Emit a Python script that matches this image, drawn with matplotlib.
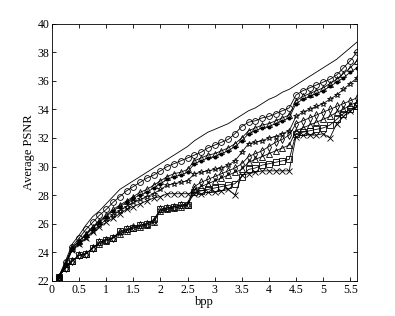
import numpy as np
import matplotlib
matplotlib.use("Agg")
import matplotlib.pyplot as plt

plt.rcParams['font.family'] = ['Liberation Serif', 'DejaVu Serif']

# bpp sample points (0.125 .. 5.625)
bpp = [0.125, 0.25, 0.375, 0.5, 0.625, 0.75, 0.875, 1.0, 1.125, 1.25,
       1.375, 1.5, 1.625, 1.75, 1.875, 2.0, 2.125, 2.25, 2.375, 2.5,
       2.625, 2.75, 2.875, 3.0, 3.125, 3.25, 3.375, 3.5, 3.625, 3.75,
       3.875, 4.0, 4.125, 4.25, 4.375, 4.5, 4.625, 4.75, 4.875, 5.0,
       5.125, 5.25, 5.375, 5.5, 5.625]

psnr_plain = [22.3, 23.4, 24.6, 25.2, 25.9, 26.5, 26.9, 27.4, 27.9, 28.4,
              28.7, 29.0, 29.3, 29.6, 29.9, 30.2, 30.5, 30.8, 31.1, 31.4,
              31.8, 32.1, 32.4, 32.6, 32.8, 33.0, 33.3, 33.6, 33.9, 34.1,
              34.4, 34.7, 34.9, 35.2, 35.4, 35.7, 36.0, 36.3, 36.6, 36.9,
              37.2, 37.5, 37.9, 38.3, 38.7]
psnr_circ = [22.3, 23.3, 24.4, 25.0, 25.6, 26.1, 26.6, 27.0, 27.5, 27.9,
             28.3, 28.6, 28.9, 29.2, 29.4, 29.7, 30.0, 30.2, 30.4, 30.6,
             30.8, 31.0, 31.3, 31.5, 31.7, 31.9, 32.3, 32.8, 33.1, 33.2,
             33.4, 33.5, 33.7, 33.9, 34.1, 35.0, 35.3, 35.5, 35.7, 35.9,
             36.1, 36.4, 36.9, 37.4, 38.0]
psnr_tri = [22.3, 23.2, 24.3, 24.8, 25.3, 25.8, 26.2, 26.6, 27.0, 27.3,
            27.6, 27.9, 28.2, 28.4, 28.7, 29.0, 29.3, 29.5, 29.6, 29.8,
            30.4, 30.6, 30.8, 30.9, 31.1, 31.3, 31.6, 32.0, 32.5, 32.7,
            32.9, 33.0, 33.2, 33.4, 33.6, 34.6, 34.9, 35.1, 35.3, 35.5,
            35.8, 36.1, 36.5, 36.9, 37.4]
psnr_dot = [22.3, 23.2, 24.3, 24.8, 25.2, 25.7, 26.1, 26.5, 26.9, 27.2,
            27.5, 27.8, 28.0, 28.2, 28.5, 28.8, 29.1, 29.3, 29.4, 29.6,
            30.2, 30.4, 30.6, 30.7, 30.9, 31.1, 31.4, 31.8, 32.3, 32.5,
            32.7, 32.8, 33.0, 33.2, 33.4, 34.4, 34.7, 34.9, 35.1, 35.3,
            35.6, 35.9, 36.2, 36.6, 36.9]
psnr_star = [22.3, 23.1, 24.2, 24.6, 25.0, 25.5, 25.9, 26.3, 26.6, 26.9,
             27.2, 27.5, 27.7, 27.9, 28.1, 28.4, 28.7, 28.8, 28.9, 29.0,
             29.5, 29.6, 29.7, 29.8, 29.9, 30.1, 30.4, 31.0, 31.6, 31.7,
             31.8, 32.0, 32.1, 32.3, 32.5, 33.5, 33.8, 34.0, 34.2, 34.4,
             34.7, 35.0, 35.4, 35.8, 36.2]
psnr_x = [22.3, 23.1, 24.2, 24.6, 25.0, 25.4, 25.8, 26.1, 26.4, 26.7,
          27.0, 27.2, 27.4, 27.6, 27.8, 27.9, 28.1, 28.1, 28.1, 28.1,
          28.1, 28.1, 28.2, 28.2, 28.3, 28.4, 28.0, 29.4, 29.5, 29.6,
          29.7, 29.7, 29.7, 29.7, 29.7, 32.1, 32.2, 32.2, 32.2, 32.3,
          32.0, 33.0, 33.5, 33.9, 34.2]
psnr_diam = [22.3, 22.9, 23.4, 23.8, 23.9, 24.3, 24.7, 24.9, 25.0, 25.4,
             25.6, 25.8, 25.9, 26.0, 26.2, 27.0, 27.1, 27.2, 27.3, 27.4,
             28.6, 28.9, 29.1, 29.3, 29.5, 29.7, 29.9, 30.2, 30.7, 30.9,
             31.1, 31.4, 31.7, 31.9, 32.2, 33.0, 33.2, 33.4, 33.6, 33.8,
             34.0, 34.2, 34.4, 34.6, 34.8]
psnr_tri2 = [22.3, 22.9, 23.4, 23.8, 23.9, 24.3, 24.6, 24.8, 25.0, 25.3,
             25.5, 25.7, 25.8, 25.9, 26.1, 26.9, 27.0, 27.1, 27.2, 27.3,
             28.4, 28.6, 28.8, 29.0, 29.2, 29.4, 29.6, 29.8, 30.3, 30.5,
             30.7, 30.9, 31.1, 31.3, 31.5, 32.5, 32.7, 32.9, 33.1, 33.3,
             33.5, 33.8, 34.0, 34.3, 34.5]
psnr_sq = [22.3, 22.9, 23.4, 23.8, 23.9, 24.3, 24.7, 24.9, 25.0, 25.5,
           25.6, 25.7, 25.9, 26.0, 26.3, 27.0, 27.1, 27.2, 27.3, 27.3,
           28.2, 28.3, 28.4, 28.5, 28.6, 28.7, 28.8, 29.3, 29.8, 29.9,
           30.1, 30.2, 30.3, 30.4, 30.5, 32.3, 32.4, 32.5, 32.6, 32.7,
           32.9, 33.3, 33.7, 34.0, 34.2]

xticks = [0, 0.5, 1, 1.5, 2, 2.5, 3, 3.5, 4, 4.5, 5, 5.5]
xticklabels = ['0', '0.5', '1', '1.5', '2', '2.5', '3', '3.5', '4', '4.5', '5', '5.5']
yticks = [22, 24, 26, 28, 30, 32, 34, 36, 38, 40]

fig = plt.figure(figsize=(3.95, 3.16), dpi=100)
ax = fig.add_axes([0.1316, 0.1108, 0.7722, 0.8148])

kw = dict(color='black', linewidth=0.6, markersize=4.2,
          markerfacecolor='none', markeredgewidth=0.6)
ax.plot(bpp, psnr_plain, color='black', linewidth=0.6)
ax.plot(bpp, psnr_circ, marker='o', **kw)
ax.plot(bpp, psnr_tri, marker='^', **kw)
ax.plot(bpp, psnr_dot, marker='.', color='black', linewidth=0.6,
        markersize=3.8)
ax.plot(bpp, psnr_star, marker='*', **kw)
ax.plot(bpp, psnr_x, marker='x', **kw)
ax.plot(bpp, psnr_diam, marker='d', **kw)
ax.plot(bpp, psnr_tri2, marker='^', **kw)
ax.plot(bpp, psnr_sq, marker='s', **kw)

ax.set_xlim(0, 5.625)
ax.set_ylim(22, 40)
ax.set_xticks(xticks)
ax.set_xticklabels(xticklabels)
ax.set_yticks(yticks)
ax.tick_params(direction='in', top=True, right=True, labelsize=8.5,
               length=3, width=0.6, pad=2)
for s in ax.spines.values():
    s.set_linewidth(0.6)
ax.set_xlabel('bpp', fontsize=9, labelpad=0)
ax.set_ylabel('Average PSNR', fontsize=9, labelpad=2)

fig.savefig('out.png', dpi=100)
